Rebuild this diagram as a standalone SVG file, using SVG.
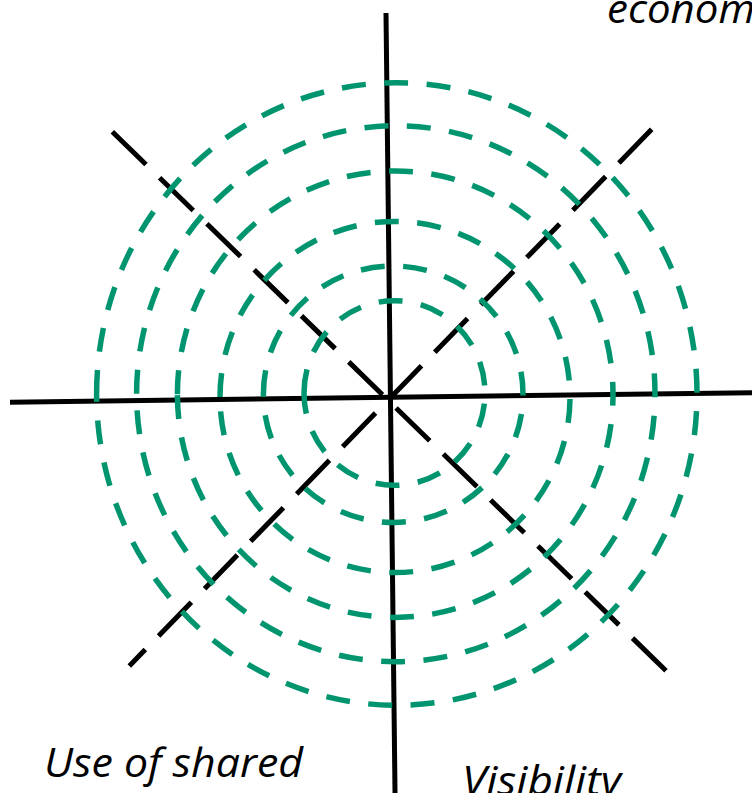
<svg xmlns="http://www.w3.org/2000/svg" width="752" height="793" viewBox="0 0 752 793">
  <style>
    .axis { stroke: #000; stroke-width: 5; fill: none; }
    .diag { stroke: #000; stroke-width: 5; fill: none; stroke-dasharray: 47 19; }
    .ring { stroke: #00956F; stroke-width: 5.5; fill: none; stroke-dasharray: 24 18.5; }
    .label { font-family: "Open Sans", "Noto Sans", "Liberation Sans", sans-serif; font-style: italic; font-size: 40px; fill: #000; }
  </style>
  <rect width="752" height="793" fill="#fff"/>
  <g id="connectors">
    <line id="axis-vertical" class="axis" x1="386" y1="13" x2="395.1" y2="800"/>
    <line id="axis-horizontal" class="axis" x1="10" y1="402.2" x2="760" y2="392.6"/>
    <line id="diag-a" class="diag" x1="112.3" y1="131.7" x2="666" y2="670.7"/>
    <line id="diag-b" class="diag" x1="651.7" y1="129.3" x2="129.3" y2="666"/>
  </g>
  <g id="rings">
    <path id="ring-1" class="ring" d="M304,393 A90.5,92.3 0 1 1 485,393 A90.5,92.3 0 1 1 304,393"/>
    <path id="ring-2" class="ring" d="M263.4,394.2 A129.8,128.2 0 1 1 523,394.2 A129.8,128.2 0 1 1 263.4,394.2"/>
    <path id="ring-3" class="ring" d="M220,397 A175,175.5 0 1 1 570,397 A175,175.5 0 1 1 220,397"/>
    <path id="ring-4" class="ring" d="M177.4,394.2 A217.8,223.2 0 1 1 613,394.2 A217.8,223.2 0 1 1 177.4,394.2"/>
    <path id="ring-5" class="ring" d="M136.6,393.7 A259.2,268 0 1 1 655,393.7 A259.2,268 0 1 1 136.6,393.7"/>
    <path id="ring-6" class="ring" d="M96.6,394 A300.2,311.3 0 1 1 697,394 A300.2,311.3 0 1 1 96.6,394"/>
  </g>
  <g id="label-economy">
    <text class="label" x="607" y="23" textLength="148" lengthAdjust="spacingAndGlyphs">econom</text>
  </g>
  <g id="label-shared">
    <text class="label" x="44" y="777" textLength="259" lengthAdjust="spacingAndGlyphs">Use of shared</text>
  </g>
  <g id="label-visibility">
    <text class="label" x="462" y="795" textLength="159" lengthAdjust="spacingAndGlyphs">Visibility</text>
  </g>
</svg>
